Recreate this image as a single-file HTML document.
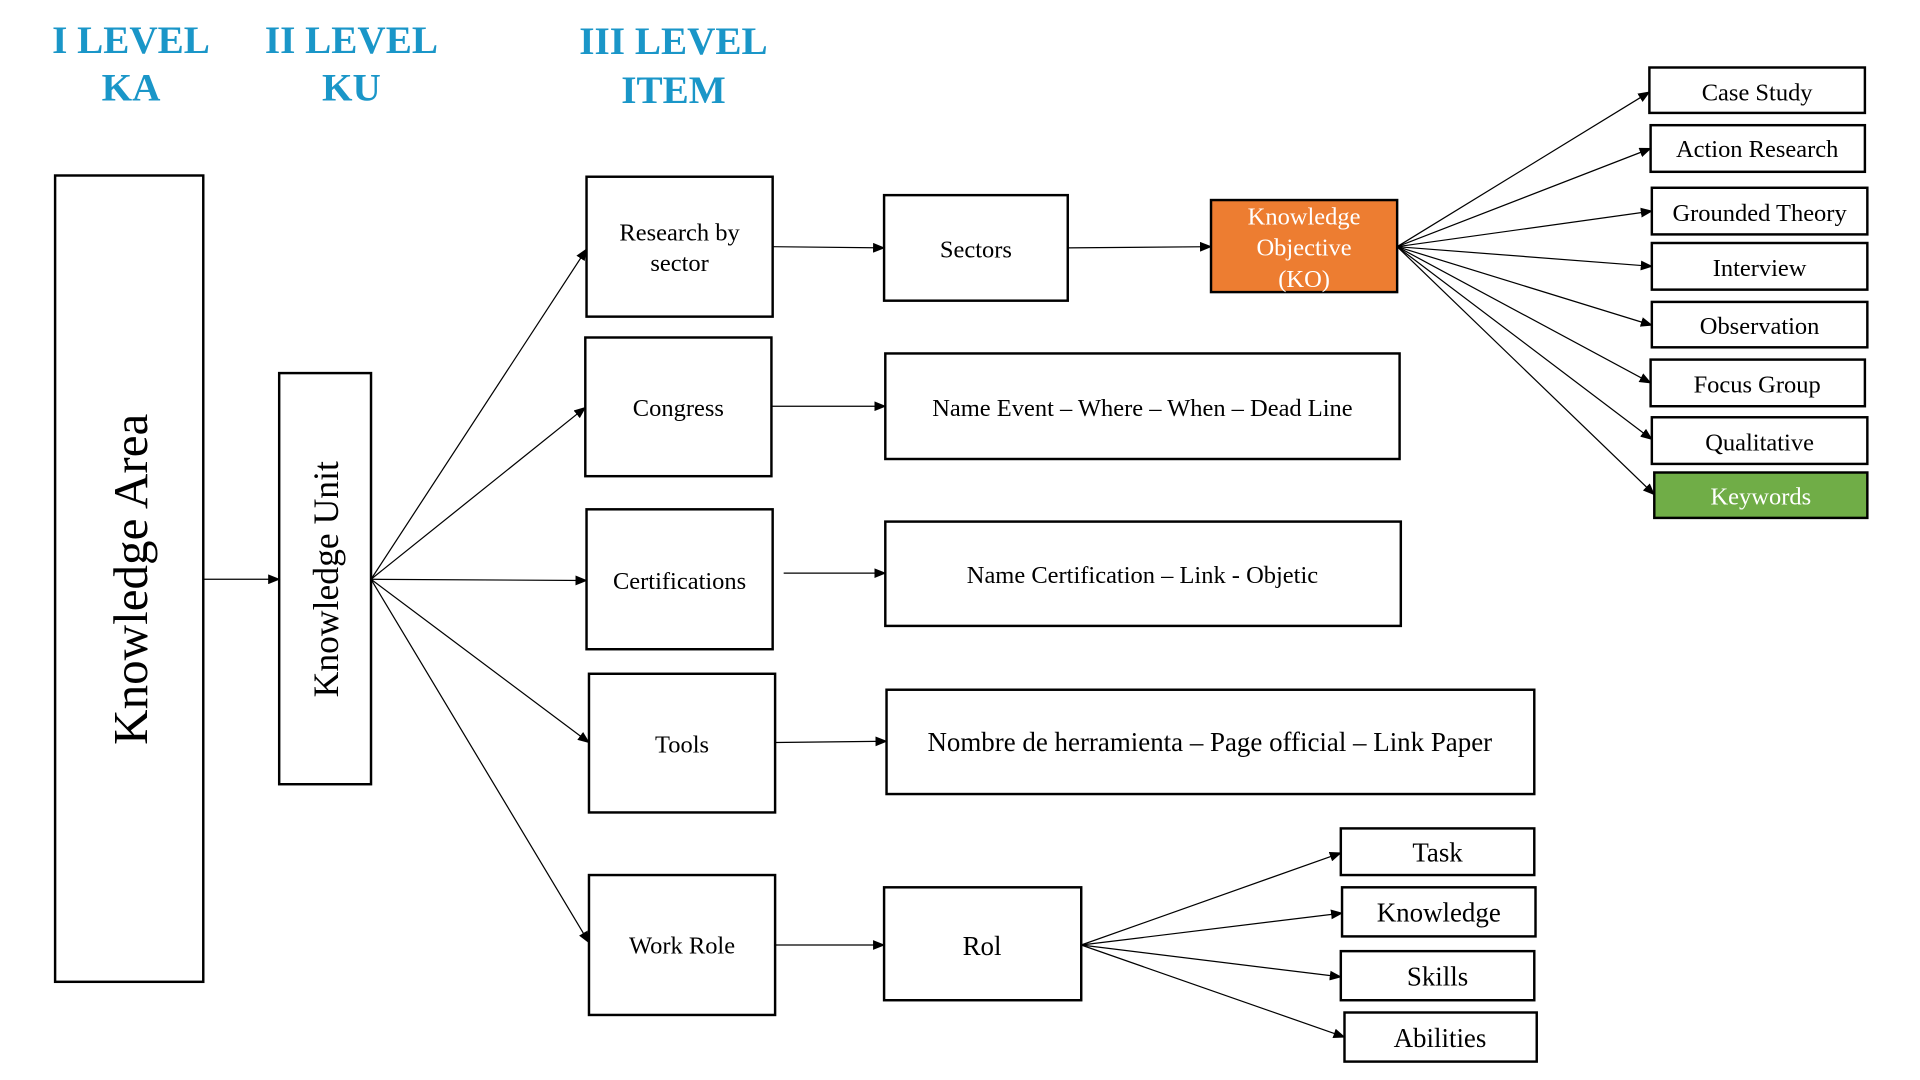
<!DOCTYPE html>
<html><head><meta charset="utf-8"><style>
html,body{margin:0;padding:0;background:#fff;}
svg{display:block;}
text{font-family:"Liberation Serif",serif;}
</style></head><body>
<svg width="1920" height="1080" viewBox="0 0 1568 880" preserveAspectRatio="none" xmlns="http://www.w3.org/2000/svg">
<defs>
<marker id="a" markerWidth="10" markerHeight="8" refX="9" refY="4" orient="auto" markerUnits="userSpaceOnUse">
<path d="M0,0 L10,4 L0,8 z" fill="#000"/></marker>
</defs>
<g font-weight="bold" fill="#1a96c8" font-size="32" text-anchor="middle">
<text x="107" y="43">I LEVEL</text><text x="107" y="82">KA</text>
<text x="287" y="43">II LEVEL</text><text x="287" y="82">KU</text>
<text x="550" y="44">III LEVEL</text><text x="550" y="84">ITEM</text>
</g>
<g fill="#fff" stroke="#000" stroke-width="2">
<rect x="45" y="143" width="121" height="657"/>
<rect x="228" y="304" width="75" height="335"/>
<rect x="479" y="144" width="152" height="114"/>
<rect x="478" y="275" width="152" height="113"/>
<rect x="479" y="415" width="152" height="114"/>
<rect x="481" y="549" width="152" height="113"/>
<rect x="481" y="713" width="152" height="114"/>
<rect x="722" y="159" width="150" height="86"/>
<rect x="989" y="163" width="152" height="75" fill="#ed7d31"/>
<rect x="723" y="288" width="420" height="86"/>
<rect x="723" y="425" width="421" height="85"/>
<rect x="724" y="562" width="529" height="85"/>
<rect x="722" y="723" width="161" height="92"/>
<rect x="1095" y="675" width="158" height="38"/>
<rect x="1096" y="723" width="158" height="40"/>
<rect x="1095" y="775" width="158" height="40"/>
<rect x="1098" y="825" width="157" height="40"/>
<rect x="1347" y="55" width="176" height="37"/>
<rect x="1348" y="102" width="175" height="38"/>
<rect x="1349" y="153" width="176" height="38"/>
<rect x="1349" y="198" width="176" height="38"/>
<rect x="1349" y="246" width="176" height="37"/>
<rect x="1348" y="293" width="175" height="38"/>
<rect x="1349" y="340" width="176" height="38"/>
<rect x="1351" y="385" width="174" height="37" fill="#70ad47"/>
</g>
<g stroke="#000" stroke-width="1" fill="none" marker-end="url(#a)">
<line x1="166" y1="472" x2="228" y2="472"/>
<line x1="303" y1="472" x2="479" y2="203"/>
<line x1="303" y1="472" x2="478" y2="332"/>
<line x1="303" y1="472" x2="479" y2="473"/>
<line x1="303" y1="472" x2="481" y2="605"/>
<line x1="303" y1="472" x2="481" y2="768"/>
<line x1="631" y1="201" x2="722" y2="202"/>
<line x1="872" y1="202" x2="989" y2="201"/>
<line x1="630" y1="331" x2="723" y2="331"/>
<line x1="640" y1="467" x2="723" y2="467"/>
<line x1="633" y1="605" x2="724" y2="604"/>
<line x1="633" y1="770" x2="722" y2="770"/>
<line x1="883" y1="770" x2="1095" y2="695"/>
<line x1="883" y1="770" x2="1096" y2="744"/>
<line x1="883" y1="770" x2="1095" y2="796"/>
<line x1="883" y1="770" x2="1098" y2="845"/>
<line x1="1141" y1="201" x2="1347" y2="75"/>
<line x1="1141" y1="201" x2="1348" y2="121"/>
<line x1="1141" y1="201" x2="1349" y2="172"/>
<line x1="1141" y1="201" x2="1349" y2="217"/>
<line x1="1141" y1="201" x2="1349" y2="265"/>
<line x1="1141" y1="201" x2="1348" y2="312"/>
<line x1="1141" y1="201" x2="1349" y2="358"/>
<line x1="1141" y1="201" x2="1351" y2="403"/>
</g>
<g text-anchor="middle" fill="#000">
<text transform="translate(120,472) rotate(-90)" font-size="40" text-anchor="middle">Knowledge Area</text>
<text transform="translate(276,472) rotate(-90)" font-size="29" text-anchor="middle">Knowledge Unit</text>
<g font-size="20">
<text x="555" y="196">Research by</text><text x="555" y="221">sector</text>
<text x="554" y="339">Congress</text>
<text x="555" y="480">Certifications</text>
<text x="557" y="613">Tools</text>
<text x="557" y="777">Work Role</text>
<text x="797" y="210">Sectors</text>
<text x="933" y="339">Name Event – Where – When – Dead Line</text>
<text x="933" y="475">Name Certification – Link - Objetic</text>
</g>
<text x="988" y="612" font-size="22">Nombre de herramienta – Page official – Link Paper</text>
<text x="802" y="778" font-size="22">Rol</text>
<g font-size="22">
<text x="1174" y="702">Task</text>
<text x="1175" y="751">Knowledge</text>
<text x="1174" y="803">Skills</text>
<text x="1176" y="853">Abilities</text>
</g>
<g font-size="20">
<text x="1435" y="82">Case Study</text>
<text x="1435" y="128">Action Research</text>
<text x="1437" y="180">Grounded Theory</text>
<text x="1437" y="225">Interview</text>
<text x="1437" y="272">Observation</text>
<text x="1435" y="320">Focus Group</text>
<text x="1437" y="367">Qualitative</text>
<text x="1438" y="411" fill="#fff">Keywords</text>
<text x="1065" y="183" fill="#fff">Knowledge</text>
<text x="1065" y="208" fill="#fff">Objective</text>
<text x="1065" y="234" fill="#fff">(KO)</text>
</g>
</g>
</svg>
</body></html>
